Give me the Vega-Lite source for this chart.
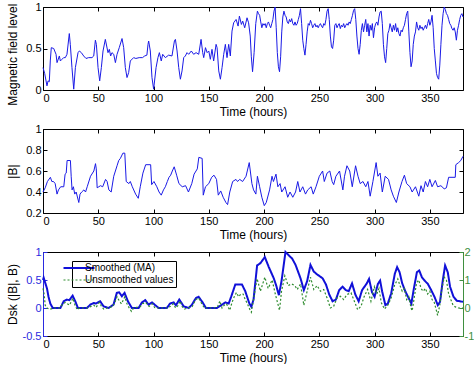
{
"$schema": "https://vega.github.io/schema/vega-lite/v6.json",
"padding": {"left": 5, "top": -9, "right": 0, "bottom": 0},
"spacing": 39,
"bounds": "flush",
"config": {
  "font": "Liberation Sans",
  "view": {"stroke": "black", "strokeWidth": 1},
  "axis": {"grid": false, "domain": false, "labelFontSize": 11, "titleFontSize": 12, "titleFontWeight": "normal", "labelColor": "black", "titleColor": "black", "tickColor": "black", "tickSize": -4, "labelPadding": 6, "titlePadding": 3, "labelExpr": "replace(datum.label, '−', '-')"}
},
"datasets": {
"B": [{"t":0,"v":0.27},{"t":1.5,"v":0.2},{"t":3.6,"v":0.05},{"t":4.6,"v":0.11},{"t":5.7,"v":0.1},{"t":6.6,"v":0.35},{"t":7.5,"v":0.51},{"t":9.7,"v":0.5},{"t":10.6,"v":0.47},{"t":11.8,"v":0.43},{"t":12.7,"v":0.33},{"t":14.8,"v":0.41},{"t":15.7,"v":0.35},{"t":17.2,"v":0.37},{"t":18.7,"v":0.39},{"t":20.2,"v":0.39},{"t":21.7,"v":0.43},{"t":23.8,"v":0.68},{"t":24.7,"v":0.55},{"t":26.2,"v":0.27},{"t":27.8,"v":0.01},{"t":29.3,"v":0.27},{"t":31.7,"v":0.45},{"t":32.9,"v":0.47},{"t":34.7,"v":0.45},{"t":36.8,"v":0.41},{"t":38.9,"v":0.38},{"t":41.3,"v":0.39},{"t":44.3,"v":0.39},{"t":45.9,"v":0.41},{"t":47.4,"v":0.6},{"t":48.3,"v":0.55},{"t":49.8,"v":0.27},{"t":51.3,"v":0.11},{"t":52.8,"v":0.27},{"t":54.3,"v":0.47},{"t":56.4,"v":0.61},{"t":57.6,"v":0.53},{"t":58.8,"v":0.45},{"t":60,"v":0.49},{"t":61.2,"v":0.41},{"t":62.4,"v":0.45},{"t":64,"v":0.43},{"t":65.5,"v":0.33},{"t":67,"v":0.43},{"t":69,"v":0.51},{"t":71.5,"v":0.62},{"t":73,"v":0.51},{"t":74.5,"v":0.27},{"t":76,"v":0.15},{"t":77.5,"v":0.21},{"t":79,"v":0.35},{"t":82,"v":0.39},{"t":84,"v":0.38},{"t":87,"v":0.39},{"t":90,"v":0.39},{"t":92,"v":0.41},{"t":94,"v":0.42},{"t":95,"v":0.55},{"t":95.6,"v":0.59},{"t":97.1,"v":0.47},{"t":98.6,"v":0.15},{"t":100.1,"v":0.01},{"t":102.3,"v":0.27},{"t":104,"v":0.39},{"t":105.3,"v":0.45},{"t":107,"v":0.35},{"t":108.3,"v":0.43},{"t":110.7,"v":0.39},{"t":113.7,"v":0.42},{"t":116.7,"v":0.41},{"t":118.9,"v":0.59},{"t":119.8,"v":0.61},{"t":121.3,"v":0.47},{"t":122.8,"v":0.27},{"t":124.3,"v":0.13},{"t":125.8,"v":0.23},{"t":127.3,"v":0.39},{"t":128.8,"v":0.41},{"t":130.3,"v":0.45},{"t":131.8,"v":0.43},{"t":134.2,"v":0.47},{"t":136.3,"v":0.43},{"t":138.5,"v":0.45},{"t":140.9,"v":0.43},{"t":143,"v":0.61},{"t":144.5,"v":0.45},{"t":145.4,"v":0.39},{"t":147,"v":0.51},{"t":148.5,"v":0.45},{"t":150,"v":0.47},{"t":151.4,"v":0.37},{"t":152.9,"v":0.49},{"t":154.4,"v":0.35},{"t":156.6,"v":0.55},{"t":157.5,"v":0.51},{"t":159,"v":0.23},{"t":160.5,"v":0.13},{"t":162,"v":0.27},{"t":163.5,"v":0.43},{"t":165,"v":0.55},{"t":166.5,"v":0.39},{"t":168,"v":0.55},{"t":169.5,"v":0.41},{"t":171,"v":0.71},{"t":172.5,"v":0.81},{"t":174.7,"v":0.85},{"t":176.5,"v":0.77},{"t":177.7,"v":0.89},{"t":179.5,"v":0.79},{"t":180.7,"v":0.83},{"t":182.5,"v":0.75},{"t":184.6,"v":0.87},{"t":186,"v":0.81},{"t":187.5,"v":0.65},{"t":188.5,"v":0.4},{"t":189.6,"v":0.22},{"t":191,"v":0.45},{"t":192.5,"v":0.8},{"t":194,"v":0.95},{"t":195,"v":0.92},{"t":196,"v":0.9},{"t":197,"v":0.82},{"t":198,"v":0.75},{"t":199,"v":0.8},{"t":200,"v":0.78},{"t":201,"v":0.8},{"t":202,"v":0.75},{"t":203,"v":0.8},{"t":204,"v":0.82},{"t":205,"v":0.78},{"t":206,"v":0.75},{"t":207,"v":0.8},{"t":208,"v":0.85},{"t":209,"v":0.95},{"t":210,"v":1.0},{"t":211,"v":0.75},{"t":212,"v":0.45},{"t":213,"v":0.28},{"t":214,"v":0.22},{"t":215,"v":0.4},{"t":216,"v":0.7},{"t":217,"v":0.88},{"t":218,"v":0.95},{"t":219,"v":0.9},{"t":220,"v":0.88},{"t":221,"v":0.82},{"t":222,"v":0.8},{"t":223,"v":0.85},{"t":224,"v":0.82},{"t":225,"v":0.86},{"t":226,"v":0.8},{"t":227,"v":0.78},{"t":228,"v":0.82},{"t":229,"v":0.78},{"t":230,"v":0.8},{"t":231,"v":0.85},{"t":232,"v":0.9},{"t":233,"v":0.98},{"t":234,"v":0.8},{"t":235,"v":0.6},{"t":236,"v":0.5},{"t":237,"v":0.42},{"t":238,"v":0.55},{"t":239,"v":0.7},{"t":240,"v":0.8},{"t":241,"v":0.78},{"t":242,"v":0.84},{"t":243,"v":0.8},{"t":244,"v":0.75},{"t":245,"v":0.78},{"t":246,"v":0.8},{"t":247,"v":0.76},{"t":248,"v":0.78},{"t":249,"v":0.75},{"t":250,"v":0.78},{"t":251,"v":0.8},{"t":252,"v":0.77},{"t":253,"v":0.75},{"t":254,"v":0.8},{"t":255,"v":0.78},{"t":256,"v":0.85},{"t":257,"v":0.95},{"t":258,"v":0.98},{"t":259,"v":0.85},{"t":260,"v":0.65},{"t":261,"v":0.52},{"t":262,"v":0.5},{"t":263,"v":0.6},{"t":264,"v":0.78},{"t":265,"v":0.8},{"t":266,"v":0.75},{"t":267,"v":0.78},{"t":268,"v":0.8},{"t":269,"v":0.74},{"t":270,"v":0.78},{"t":271,"v":0.76},{"t":272,"v":0.8},{"t":273,"v":0.75},{"t":274,"v":0.78},{"t":275,"v":0.8},{"t":276,"v":0.78},{"t":277,"v":0.82},{"t":278,"v":0.8},{"t":279,"v":0.85},{"t":280,"v":0.9},{"t":281,"v":0.96},{"t":282,"v":0.98},{"t":283,"v":0.85},{"t":284,"v":0.65},{"t":285,"v":0.5},{"t":286,"v":0.43},{"t":287,"v":0.55},{"t":288,"v":0.72},{"t":289,"v":0.8},{"t":290,"v":0.7},{"t":291,"v":0.78},{"t":292,"v":0.85},{"t":293,"v":0.7},{"t":294,"v":0.8},{"t":295,"v":0.65},{"t":296,"v":0.78},{"t":297,"v":0.72},{"t":298,"v":0.8},{"t":299,"v":0.63},{"t":300,"v":0.75},{"t":301,"v":0.8},{"t":302,"v":0.82},{"t":303,"v":0.78},{"t":304,"v":0.88},{"t":305,"v":0.94},{"t":306,"v":0.95},{"t":307,"v":0.8},{"t":308,"v":0.55},{"t":309,"v":0.4},{"t":310,"v":0.33},{"t":311,"v":0.5},{"t":312,"v":0.68},{"t":313,"v":0.72},{"t":314,"v":0.8},{"t":315,"v":0.75},{"t":316,"v":0.7},{"t":317,"v":0.78},{"t":318,"v":0.72},{"t":319,"v":0.8},{"t":320,"v":0.7},{"t":321,"v":0.75},{"t":322,"v":0.68},{"t":323,"v":0.65},{"t":324,"v":0.72},{"t":325,"v":0.7},{"t":326,"v":0.75},{"t":327,"v":0.78},{"t":328,"v":0.85},{"t":329,"v":0.92},{"t":330,"v":0.95},{"t":331,"v":0.7},{"t":332,"v":0.45},{"t":333,"v":0.28},{"t":334,"v":0.35},{"t":335,"v":0.55},{"t":336,"v":0.65},{"t":337,"v":0.7},{"t":338,"v":0.82},{"t":339,"v":0.75},{"t":340,"v":0.72},{"t":341,"v":0.78},{"t":342,"v":0.74},{"t":343,"v":0.76},{"t":344,"v":0.72},{"t":345,"v":0.75},{"t":346,"v":0.78},{"t":347,"v":0.74},{"t":348,"v":0.8},{"t":349,"v":0.85},{"t":350,"v":0.78},{"t":351,"v":0.82},{"t":352,"v":0.9},{"t":353,"v":0.75},{"t":354,"v":0.5},{"t":355,"v":0.35},{"t":356,"v":0.2},{"t":357,"v":0.15},{"t":358,"v":0.13},{"t":359,"v":0.3},{"t":360,"v":0.55},{"t":361,"v":0.78},{"t":362,"v":0.92},{"t":363,"v":1.0},{"t":364,"v":0.97},{"t":365,"v":0.92},{"t":366,"v":0.9},{"t":367,"v":0.85},{"t":368,"v":0.8},{"t":369,"v":0.78},{"t":370,"v":0.74},{"t":371,"v":0.72},{"t":372,"v":0.75},{"t":373,"v":0.7},{"t":374,"v":0.6},{"t":375,"v":0.72},{"t":376,"v":0.78},{"t":377,"v":0.85},{"t":378,"v":0.9},{"t":379,"v":0.92},{"t":380,"v":0.88}],
"A": [{"t":0,"v":0.4},{"t":2,"v":0.44},{"t":4,"v":0.5},{"t":6.7,"v":0.54},{"t":8,"v":0.5},{"t":9.5,"v":0.5},{"t":11,"v":0.48},{"t":12.7,"v":0.38},{"t":14,"v":0.42},{"t":16,"v":0.45},{"t":18.8,"v":0.45},{"t":20,"v":0.57},{"t":21,"v":0.58},{"t":21.8,"v":0.7},{"t":24.8,"v":0.7},{"t":25.5,"v":0.55},{"t":26.3,"v":0.42},{"t":27.5,"v":0.45},{"t":28.7,"v":0.38},{"t":30,"v":0.4},{"t":32.4,"v":0.3},{"t":33.5,"v":0.38},{"t":35,"v":0.4},{"t":37,"v":0.42},{"t":38.5,"v":0.4},{"t":40,"v":0.45},{"t":43,"v":0.55},{"t":46,"v":0.6},{"t":47.5,"v":0.67},{"t":48.2,"v":0.62},{"t":49,"v":0.44},{"t":50.5,"v":0.45},{"t":52,"v":0.46},{"t":54,"v":0.45},{"t":56.6,"v":0.52},{"t":58,"v":0.5},{"t":59.6,"v":0.42},{"t":61.7,"v":0.4},{"t":64,"v":0.55},{"t":67,"v":0.65},{"t":68.5,"v":0.7},{"t":70,"v":0.72},{"t":72.3,"v":0.77},{"t":74,"v":0.77},{"t":75.3,"v":0.5},{"t":77.7,"v":0.48},{"t":79,"v":0.5},{"t":80.8,"v":0.45},{"t":83.8,"v":0.38},{"t":86.2,"v":0.34},{"t":88,"v":0.45},{"t":90.4,"v":0.58},{"t":92.9,"v":0.66},{"t":97.4,"v":0.66},{"t":98.3,"v":0.47},{"t":100.4,"v":0.5},{"t":103,"v":0.45},{"t":105,"v":0.4},{"t":107,"v":0.37},{"t":109,"v":0.42},{"t":110.7,"v":0.45},{"t":112.5,"v":0.5},{"t":114,"v":0.54},{"t":115.5,"v":0.56},{"t":117,"v":0.6},{"t":118.7,"v":0.64},{"t":120.9,"v":0.56},{"t":123,"v":0.48},{"t":126,"v":0.45},{"t":129,"v":0.46},{"t":131.6,"v":0.4},{"t":134.6,"v":0.48},{"t":136.7,"v":0.57},{"t":139.6,"v":0.62},{"t":141,"v":0.73},{"t":144,"v":0.72},{"t":145,"v":0.37},{"t":147,"v":0.45},{"t":150,"v":0.48},{"t":152.6,"v":0.54},{"t":154.7,"v":0.56},{"t":157,"v":0.52},{"t":158.6,"v":0.37},{"t":160.8,"v":0.41},{"t":163,"v":0.35},{"t":165.5,"v":0.3},{"t":167,"v":0.28},{"t":169,"v":0.4},{"t":171.6,"v":0.5},{"t":174.6,"v":0.52},{"t":176,"v":0.5},{"t":178,"v":0.52},{"t":180.6,"v":0.5},{"t":183.7,"v":0.55},{"t":186.6,"v":0.68},{"t":189,"v":0.48},{"t":190.5,"v":0.42},{"t":192.6,"v":0.38},{"t":194,"v":0.55},{"t":196,"v":0.45},{"t":198,"v":0.35},{"t":200.2,"v":0.27},{"t":202,"v":0.3},{"t":205,"v":0.42},{"t":207.2,"v":0.55},{"t":208.5,"v":0.5},{"t":210.8,"v":0.57},{"t":212.5,"v":0.45},{"t":214.5,"v":0.48},{"t":216,"v":0.4},{"t":219,"v":0.45},{"t":221.4,"v":0.35},{"t":223.5,"v":0.4},{"t":226,"v":0.35},{"t":228.5,"v":0.4},{"t":230.5,"v":0.5},{"t":232.5,"v":0.4},{"t":235,"v":0.45},{"t":237.5,"v":0.38},{"t":239.5,"v":0.42},{"t":242.6,"v":0.45},{"t":244.5,"v":0.38},{"t":247,"v":0.45},{"t":250,"v":0.55},{"t":253,"v":0.6},{"t":254.5,"v":0.5},{"t":257,"v":0.58},{"t":259.5,"v":0.6},{"t":261.6,"v":0.5},{"t":263,"v":0.47},{"t":265,"v":0.55},{"t":268.3,"v":0.6},{"t":271.3,"v":0.42},{"t":272.8,"v":0.55},{"t":275,"v":0.65},{"t":277.5,"v":0.6},{"t":279.8,"v":0.45},{"t":282.8,"v":0.65},{"t":285,"v":0.55},{"t":287,"v":0.48},{"t":289.5,"v":0.5},{"t":292,"v":0.45},{"t":294,"v":0.5},{"t":296,"v":0.36},{"t":298.5,"v":0.5},{"t":301.4,"v":0.68},{"t":303,"v":0.55},{"t":305,"v":0.58},{"t":307,"v":0.4},{"t":309.6,"v":0.55},{"t":312.6,"v":0.52},{"t":315,"v":0.42},{"t":317,"v":0.36},{"t":319.7,"v":0.3},{"t":322,"v":0.4},{"t":324.8,"v":0.5},{"t":327,"v":0.56},{"t":329,"v":0.48},{"t":332,"v":0.45},{"t":334,"v":0.4},{"t":337,"v":0.45},{"t":340,"v":0.36},{"t":342,"v":0.46},{"t":344,"v":0.4},{"t":346,"v":0.5},{"t":348,"v":0.45},{"t":350,"v":0.52},{"t":352,"v":0.45},{"t":355,"v":0.51},{"t":357,"v":0.45},{"t":360,"v":0.46},{"t":363,"v":0.43},{"t":365,"v":0.44},{"t":367,"v":0.54},{"t":373,"v":0.54},{"t":373.5,"v":0.66},{"t":376,"v":0.68},{"t":378,"v":0.7},{"t":380,"v":0.74}],
"D": [{"t":0,"v":0.5,"s":"Smoothed (MA)"},{"t":0.6,"v":0.54,"s":"Smoothed (MA)"},{"t":2,"v":0.45,"s":"Smoothed (MA)"},{"t":3.6,"v":0.35,"s":"Smoothed (MA)"},{"t":5,"v":0.2,"s":"Smoothed (MA)"},{"t":6.6,"v":0.08,"s":"Smoothed (MA)"},{"t":8.8,"v":0.0,"s":"Smoothed (MA)"},{"t":15.7,"v":0.0,"s":"Smoothed (MA)"},{"t":17,"v":0.05,"s":"Smoothed (MA)"},{"t":18.7,"v":0.12,"s":"Smoothed (MA)"},{"t":21.7,"v":0.15,"s":"Smoothed (MA)"},{"t":23.8,"v":0.14,"s":"Smoothed (MA)"},{"t":26.8,"v":0.22,"s":"Smoothed (MA)"},{"t":29.2,"v":0.12,"s":"Smoothed (MA)"},{"t":31.6,"v":0.0,"s":"Smoothed (MA)"},{"t":39.8,"v":0.0,"s":"Smoothed (MA)"},{"t":42.8,"v":0.06,"s":"Smoothed (MA)"},{"t":45.8,"v":0.09,"s":"Smoothed (MA)"},{"t":48,"v":0.08,"s":"Smoothed (MA)"},{"t":51.7,"v":0.12,"s":"Smoothed (MA)"},{"t":54.8,"v":0.03,"s":"Smoothed (MA)"},{"t":59.3,"v":0.0,"s":"Smoothed (MA)"},{"t":63.8,"v":0.06,"s":"Smoothed (MA)"},{"t":66.8,"v":0.27,"s":"Smoothed (MA)"},{"t":68.9,"v":0.28,"s":"Smoothed (MA)"},{"t":71.4,"v":0.21,"s":"Smoothed (MA)"},{"t":73.8,"v":0.27,"s":"Smoothed (MA)"},{"t":76.8,"v":0.12,"s":"Smoothed (MA)"},{"t":80.4,"v":0.0,"s":"Smoothed (MA)"},{"t":86.5,"v":0.0,"s":"Smoothed (MA)"},{"t":89.5,"v":0.1,"s":"Smoothed (MA)"},{"t":92.5,"v":0.14,"s":"Smoothed (MA)"},{"t":95.5,"v":0.06,"s":"Smoothed (MA)"},{"t":98.6,"v":0.1,"s":"Smoothed (MA)"},{"t":101.6,"v":0.05,"s":"Smoothed (MA)"},{"t":104.6,"v":0.0,"s":"Smoothed (MA)"},{"t":112,"v":0.0,"s":"Smoothed (MA)"},{"t":115,"v":0.08,"s":"Smoothed (MA)"},{"t":118.2,"v":0.1,"s":"Smoothed (MA)"},{"t":120.3,"v":0.05,"s":"Smoothed (MA)"},{"t":123.3,"v":0.15,"s":"Smoothed (MA)"},{"t":127.3,"v":0.03,"s":"Smoothed (MA)"},{"t":131.8,"v":0.0,"s":"Smoothed (MA)"},{"t":134.8,"v":0.06,"s":"Smoothed (MA)"},{"t":138.4,"v":0.18,"s":"Smoothed (MA)"},{"t":140.8,"v":0.2,"s":"Smoothed (MA)"},{"t":144.4,"v":0.1,"s":"Smoothed (MA)"},{"t":147.4,"v":0.0,"s":"Smoothed (MA)"},{"t":157.4,"v":0.0,"s":"Smoothed (MA)"},{"t":162,"v":0.06,"s":"Smoothed (MA)"},{"t":165,"v":0.1,"s":"Smoothed (MA)"},{"t":168,"v":0.08,"s":"Smoothed (MA)"},{"t":170.4,"v":0.21,"s":"Smoothed (MA)"},{"t":174,"v":0.42,"s":"Smoothed (MA)"},{"t":180,"v":0.42,"s":"Smoothed (MA)"},{"t":183,"v":0.3,"s":"Smoothed (MA)"},{"t":186.7,"v":0.08,"s":"Smoothed (MA)"},{"t":188.5,"v":0.02,"s":"Smoothed (MA)"},{"t":190.5,"v":0.15,"s":"Smoothed (MA)"},{"t":193.7,"v":0.76,"s":"Smoothed (MA)"},{"t":196.7,"v":0.8,"s":"Smoothed (MA)"},{"t":200.7,"v":0.91,"s":"Smoothed (MA)"},{"t":204.3,"v":0.73,"s":"Smoothed (MA)"},{"t":208.8,"v":0.53,"s":"Smoothed (MA)"},{"t":211,"v":0.4,"s":"Smoothed (MA)"},{"t":213.4,"v":0.23,"s":"Smoothed (MA)"},{"t":215.8,"v":0.48,"s":"Smoothed (MA)"},{"t":219.4,"v":1.0,"s":"Smoothed (MA)"},{"t":222.4,"v":0.94,"s":"Smoothed (MA)"},{"t":225.5,"v":0.88,"s":"Smoothed (MA)"},{"t":228.5,"v":0.77,"s":"Smoothed (MA)"},{"t":233,"v":0.53,"s":"Smoothed (MA)"},{"t":236,"v":0.32,"s":"Smoothed (MA)"},{"t":239,"v":0.48,"s":"Smoothed (MA)"},{"t":242,"v":0.77,"s":"Smoothed (MA)"},{"t":245,"v":0.65,"s":"Smoothed (MA)"},{"t":248,"v":0.6,"s":"Smoothed (MA)"},{"t":253,"v":0.53,"s":"Smoothed (MA)"},{"t":256,"v":0.42,"s":"Smoothed (MA)"},{"t":259,"v":0.24,"s":"Smoothed (MA)"},{"t":262,"v":0.12,"s":"Smoothed (MA)"},{"t":265,"v":0.15,"s":"Smoothed (MA)"},{"t":268,"v":0.32,"s":"Smoothed (MA)"},{"t":271,"v":0.38,"s":"Smoothed (MA)"},{"t":274,"v":0.32,"s":"Smoothed (MA)"},{"t":276.6,"v":0.3,"s":"Smoothed (MA)"},{"t":279.6,"v":0.44,"s":"Smoothed (MA)"},{"t":282.6,"v":0.24,"s":"Smoothed (MA)"},{"t":285.6,"v":0.12,"s":"Smoothed (MA)"},{"t":288.7,"v":0.32,"s":"Smoothed (MA)"},{"t":293,"v":0.44,"s":"Smoothed (MA)"},{"t":295,"v":0.52,"s":"Smoothed (MA)"},{"t":297.7,"v":0.28,"s":"Smoothed (MA)"},{"t":300,"v":0.2,"s":"Smoothed (MA)"},{"t":303,"v":0.43,"s":"Smoothed (MA)"},{"t":305,"v":0.49,"s":"Smoothed (MA)"},{"t":306.8,"v":0.3,"s":"Smoothed (MA)"},{"t":309.8,"v":0.05,"s":"Smoothed (MA)"},{"t":312,"v":0.08,"s":"Smoothed (MA)"},{"t":315,"v":0.26,"s":"Smoothed (MA)"},{"t":318.3,"v":0.61,"s":"Smoothed (MA)"},{"t":320.4,"v":0.73,"s":"Smoothed (MA)"},{"t":322.6,"v":0.64,"s":"Smoothed (MA)"},{"t":325,"v":0.44,"s":"Smoothed (MA)"},{"t":328,"v":0.29,"s":"Smoothed (MA)"},{"t":331,"v":0.17,"s":"Smoothed (MA)"},{"t":333.3,"v":0.08,"s":"Smoothed (MA)"},{"t":335.3,"v":0.32,"s":"Smoothed (MA)"},{"t":338.3,"v":0.64,"s":"Smoothed (MA)"},{"t":340.4,"v":0.67,"s":"Smoothed (MA)"},{"t":342.8,"v":0.55,"s":"Smoothed (MA)"},{"t":345.2,"v":0.49,"s":"Smoothed (MA)"},{"t":348.2,"v":0.43,"s":"Smoothed (MA)"},{"t":351.2,"v":0.32,"s":"Smoothed (MA)"},{"t":354.2,"v":0.2,"s":"Smoothed (MA)"},{"t":357.2,"v":0.05,"s":"Smoothed (MA)"},{"t":359.2,"v":0.11,"s":"Smoothed (MA)"},{"t":361.7,"v":0.49,"s":"Smoothed (MA)"},{"t":363.8,"v":0.76,"s":"Smoothed (MA)"},{"t":366.2,"v":0.64,"s":"Smoothed (MA)"},{"t":368.3,"v":0.38,"s":"Smoothed (MA)"},{"t":371.4,"v":0.2,"s":"Smoothed (MA)"},{"t":374.4,"v":0.13,"s":"Smoothed (MA)"},{"t":380,"v":0.11,"s":"Smoothed (MA)"},
{"t":0,"v":0.7,"s":"Unsmoothed values"},{"t":1,"v":0.5,"s":"Unsmoothed values"},{"t":2,"v":0.1,"s":"Unsmoothed values"},{"t":3.5,"v":0.0,"s":"Unsmoothed values"},{"t":6,"v":-0.05,"s":"Unsmoothed values"},{"t":10,"v":0.0,"s":"Unsmoothed values"},{"t":15,"v":0.0,"s":"Unsmoothed values"},{"t":18,"v":0.15,"s":"Unsmoothed values"},{"t":20,"v":0.2,"s":"Unsmoothed values"},{"t":22,"v":0.15,"s":"Unsmoothed values"},{"t":24,"v":0.1,"s":"Unsmoothed values"},{"t":27,"v":0.35,"s":"Unsmoothed values"},{"t":29,"v":0.1,"s":"Unsmoothed values"},{"t":31,"v":-0.06,"s":"Unsmoothed values"},{"t":33,"v":0.0,"s":"Unsmoothed values"},{"t":40,"v":0.0,"s":"Unsmoothed values"},{"t":43,"v":0.05,"s":"Unsmoothed values"},{"t":46,"v":0.1,"s":"Unsmoothed values"},{"t":48,"v":0.02,"s":"Unsmoothed values"},{"t":51,"v":0.2,"s":"Unsmoothed values"},{"t":53,"v":0.05,"s":"Unsmoothed values"},{"t":55,"v":-0.04,"s":"Unsmoothed values"},{"t":58,"v":0.0,"s":"Unsmoothed values"},{"t":63,"v":0.05,"s":"Unsmoothed values"},{"t":65,"v":0.2,"s":"Unsmoothed values"},{"t":67,"v":0.4,"s":"Unsmoothed values"},{"t":69,"v":0.25,"s":"Unsmoothed values"},{"t":71,"v":0.15,"s":"Unsmoothed values"},{"t":74,"v":0.4,"s":"Unsmoothed values"},{"t":76,"v":0.15,"s":"Unsmoothed values"},{"t":78,"v":0.0,"s":"Unsmoothed values"},{"t":80,"v":-0.12,"s":"Unsmoothed values"},{"t":82,"v":0.0,"s":"Unsmoothed values"},{"t":88,"v":0.05,"s":"Unsmoothed values"},{"t":90,"v":0.15,"s":"Unsmoothed values"},{"t":93,"v":0.2,"s":"Unsmoothed values"},{"t":96,"v":0.06,"s":"Unsmoothed values"},{"t":99,"v":0.15,"s":"Unsmoothed values"},{"t":101,"v":0.02,"s":"Unsmoothed values"},{"t":104,"v":0.0,"s":"Unsmoothed values"},{"t":112,"v":0.0,"s":"Unsmoothed values"},{"t":115,"v":0.05,"s":"Unsmoothed values"},{"t":118,"v":0.15,"s":"Unsmoothed values"},{"t":120,"v":0.0,"s":"Unsmoothed values"},{"t":122,"v":0.08,"s":"Unsmoothed values"},{"t":124,"v":0.25,"s":"Unsmoothed values"},{"t":126,"v":0.05,"s":"Unsmoothed values"},{"t":128,"v":-0.04,"s":"Unsmoothed values"},{"t":131,"v":0.0,"s":"Unsmoothed values"},{"t":135,"v":0.05,"s":"Unsmoothed values"},{"t":138,"v":0.3,"s":"Unsmoothed values"},{"t":141,"v":0.35,"s":"Unsmoothed values"},{"t":143,"v":0.2,"s":"Unsmoothed values"},{"t":146,"v":0.0,"s":"Unsmoothed values"},{"t":155,"v":0.0,"s":"Unsmoothed values"},{"t":158,"v":0.05,"s":"Unsmoothed values"},{"t":160,"v":0.25,"s":"Unsmoothed values"},{"t":162,"v":0.0,"s":"Unsmoothed values"},{"t":164,"v":0.1,"s":"Unsmoothed values"},{"t":166,"v":0.15,"s":"Unsmoothed values"},{"t":169,"v":-0.08,"s":"Unsmoothed values"},{"t":171,"v":0.2,"s":"Unsmoothed values"},{"t":173,"v":0.4,"s":"Unsmoothed values"},{"t":175,"v":0.55,"s":"Unsmoothed values"},{"t":177,"v":0.4,"s":"Unsmoothed values"},{"t":179,"v":0.5,"s":"Unsmoothed values"},{"t":181,"v":0.5,"s":"Unsmoothed values"},{"t":183,"v":0.3,"s":"Unsmoothed values"},{"t":185,"v":0.15,"s":"Unsmoothed values"},{"t":186.5,"v":0.0,"s":"Unsmoothed values"},{"t":188.5,"v":-0.15,"s":"Unsmoothed values"},{"t":190,"v":0.2,"s":"Unsmoothed values"},{"t":193.7,"v":1.05,"s":"Unsmoothed values"},{"t":196.7,"v":0.6,"s":"Unsmoothed values"},{"t":200.7,"v":1.1,"s":"Unsmoothed values"},{"t":203.7,"v":0.7,"s":"Unsmoothed values"},{"t":207.3,"v":1.0,"s":"Unsmoothed values"},{"t":210.3,"v":0.48,"s":"Unsmoothed values"},{"t":214,"v":-0.08,"s":"Unsmoothed values"},{"t":215.8,"v":0.6,"s":"Unsmoothed values"},{"t":218.8,"v":1.15,"s":"Unsmoothed values"},{"t":221.8,"v":0.8,"s":"Unsmoothed values"},{"t":224.9,"v":0.86,"s":"Unsmoothed values"},{"t":227.9,"v":0.8,"s":"Unsmoothed values"},{"t":230,"v":0.66,"s":"Unsmoothed values"},{"t":233,"v":0.86,"s":"Unsmoothed values"},{"t":236,"v":0.1,"s":"Unsmoothed values"},{"t":239,"v":0.6,"s":"Unsmoothed values"},{"t":242,"v":1.1,"s":"Unsmoothed values"},{"t":245,"v":0.66,"s":"Unsmoothed values"},{"t":248,"v":0.8,"s":"Unsmoothed values"},{"t":251,"v":0.6,"s":"Unsmoothed values"},{"t":254,"v":0.66,"s":"Unsmoothed values"},{"t":257,"v":0.36,"s":"Unsmoothed values"},{"t":260,"v":0.0,"s":"Unsmoothed values"},{"t":263,"v":0.06,"s":"Unsmoothed values"},{"t":266,"v":0.36,"s":"Unsmoothed values"},{"t":269,"v":0.42,"s":"Unsmoothed values"},{"t":272,"v":0.3,"s":"Unsmoothed values"},{"t":275,"v":0.48,"s":"Unsmoothed values"},{"t":278.7,"v":0.54,"s":"Unsmoothed values"},{"t":281.7,"v":0.24,"s":"Unsmoothed values"},{"t":284.7,"v":-0.06,"s":"Unsmoothed values"},{"t":287.7,"v":0.06,"s":"Unsmoothed values"},{"t":290.7,"v":0.42,"s":"Unsmoothed values"},{"t":293.7,"v":0.66,"s":"Unsmoothed values"},{"t":296.7,"v":0.24,"s":"Unsmoothed values"},{"t":299.8,"v":0.76,"s":"Unsmoothed values"},{"t":302,"v":0.5,"s":"Unsmoothed values"},{"t":304,"v":0.7,"s":"Unsmoothed values"},{"t":306,"v":0.2,"s":"Unsmoothed values"},{"t":309,"v":-0.04,"s":"Unsmoothed values"},{"t":312,"v":0.1,"s":"Unsmoothed values"},{"t":315,"v":0.36,"s":"Unsmoothed values"},{"t":318,"v":0.8,"s":"Unsmoothed values"},{"t":321,"v":1.04,"s":"Unsmoothed values"},{"t":323,"v":0.8,"s":"Unsmoothed values"},{"t":325,"v":0.6,"s":"Unsmoothed values"},{"t":327,"v":0.7,"s":"Unsmoothed values"},{"t":329,"v":0.3,"s":"Unsmoothed values"},{"t":331,"v":0.4,"s":"Unsmoothed values"},{"t":333,"v":0.0,"s":"Unsmoothed values"},{"t":334,"v":-0.1,"s":"Unsmoothed values"},{"t":336,"v":0.4,"s":"Unsmoothed values"},{"t":338,"v":0.9,"s":"Unsmoothed values"},{"t":340,"v":1.0,"s":"Unsmoothed values"},{"t":342,"v":0.7,"s":"Unsmoothed values"},{"t":344,"v":0.6,"s":"Unsmoothed values"},{"t":346,"v":0.7,"s":"Unsmoothed values"},{"t":348,"v":0.5,"s":"Unsmoothed values"},{"t":350,"v":0.6,"s":"Unsmoothed values"},{"t":352,"v":0.3,"s":"Unsmoothed values"},{"t":354,"v":0.2,"s":"Unsmoothed values"},{"t":356,"v":-0.1,"s":"Unsmoothed values"},{"t":357,"v":-0.26,"s":"Unsmoothed values"},{"t":359,"v":0.1,"s":"Unsmoothed values"},{"t":361,"v":0.7,"s":"Unsmoothed values"},{"t":363,"v":1.1,"s":"Unsmoothed values"},{"t":365,"v":1.0,"s":"Unsmoothed values"},{"t":367,"v":0.5,"s":"Unsmoothed values"},{"t":369,"v":0.3,"s":"Unsmoothed values"},{"t":371,"v":0.1,"s":"Unsmoothed values"},{"t":373,"v":0.04,"s":"Unsmoothed values"},{"t":376,"v":0.0,"s":"Unsmoothed values"},{"t":380,"v":0.0,"s":"Unsmoothed values"}]
},
"vconcat": [
{
  "width": 420, "height": 83,
  "data": {"name": "B"},
  "layer": [
    {"mark": {"type": "line", "color": "#1a1ae6", "strokeWidth": 1},
     "encoding": {
       "x": {"field": "t", "type": "quantitative", "scale": {"domain": [0, 380], "nice": false}, "axis": {"values": [0,50,100,150,200,250,300,350], "title": "Time (hours)"}},
       "y": {"field": "v", "type": "quantitative", "scale": {"domain": [0, 1], "nice": false}, "axis": {"values": [0, 0.5, 1], "format": "~g", "title": "Magnetic field level B", "titleX": -24}}
     }},
    {"mark": {"type": "line", "opacity": 0},
     "encoding": {
       "x": {"field": "t", "type": "quantitative", "axis": {"orient": "top", "values": [0,50,100,150,200,250,300,350], "labels": false, "title": null}},
       "y": {"field": "v", "type": "quantitative", "axis": {"orient": "right", "values": [0, 0.5, 1], "labels": false, "title": null}}
     }}
  ],
  "resolve": {"axis": {"x": "independent", "y": "independent"}}
},
{
  "width": 420, "height": 84,
  "data": {"name": "A"},
  "layer": [
    {"mark": {"type": "line", "color": "#1a1ae6", "strokeWidth": 1},
     "encoding": {
       "x": {"field": "t", "type": "quantitative", "scale": {"domain": [0, 380], "nice": false}, "axis": {"values": [0,50,100,150,200,250,300,350], "title": "Time (hours)"}},
       "y": {"field": "v", "type": "quantitative", "scale": {"domain": [0.2, 1], "nice": false, "zero": false}, "axis": {"values": [0.2, 0.4, 0.6, 0.8, 1], "format": "~g", "title": "|B|", "titleX": -24}}
     }},
    {"mark": {"type": "line", "opacity": 0},
     "encoding": {
       "x": {"field": "t", "type": "quantitative", "axis": {"orient": "top", "values": [0,50,100,150,200,250,300,350], "labels": false, "title": null}},
       "y": {"field": "v", "type": "quantitative", "axis": {"orient": "right", "values": [0.2, 0.4, 0.6, 0.8, 1], "labels": false, "title": null}}
     }}
  ],
  "resolve": {"axis": {"x": "independent", "y": "independent"}}
},
{
  "width": 420, "height": 84,
  "data": {"name": "D"},
  "layer": [
    {"transform": [{"filter": "datum.s === 'Smoothed (MA)'"}],
     "mark": {"type": "line", "strokeWidth": 2},
     "encoding": {
       "x": {"field": "t", "type": "quantitative", "scale": {"domain": [0, 380], "nice": false}, "axis": {"values": [0,50,100,150,200,250,300,350], "title": "Time (hours)"}},
       "y": {"field": "v", "type": "quantitative", "scale": {"domain": [-0.5, 1], "nice": false}, "axis": {"values": [-0.5, 0, 0.5, 1], "format": "~g", "title": "Dsk (|B|, B)", "titleX": -24, "domain": true, "domainColor": "#2a2ae0", "labelColor": "#2a2ae0", "tickColor": "#2a2ae0"}},
       "color": {"field": "s", "type": "nominal", "scale": {"domain": ["Smoothed (MA)", "Unsmoothed values"], "range": ["#1010d8", "#2e8b2e"]}, "legend": {"title": null, "orient": "none", "legendX": 29, "legendY": 254, "symbolType": "stroke", "symbolSize": 961, "labelFontSize": 10, "labelColor": "black", "strokeColor": "black", "fillColor": "white", "padding": 2, "rowPadding": 2, "labelOffset": 1, "cornerRadius": 0, "encode": {"symbols": {"update": {"strokeWidth": {"signal": "datum.value === 'Smoothed (MA)' ? 2 : 1.2"}}}}}},
       "strokeDash": {"field": "s", "type": "nominal", "scale": {"domain": ["Smoothed (MA)", "Unsmoothed values"], "range": [[1, 0], [2, 2]]}, "legend": {"title": null, "orient": "none", "legendX": 29, "legendY": 254, "symbolType": "stroke", "symbolSize": 961, "labelFontSize": 10, "labelColor": "black", "strokeColor": "black", "fillColor": "white", "padding": 2, "rowPadding": 2, "labelOffset": 1, "cornerRadius": 0, "encode": {"symbols": {"update": {"strokeWidth": {"signal": "datum.value === 'Smoothed (MA)' ? 2 : 1.2"}}}}}}
     }},
    {"transform": [{"filter": "datum.s === 'Unsmoothed values'"}],
     "mark": {"type": "line", "strokeWidth": 1.2},
     "encoding": {
       "x": {"field": "t", "type": "quantitative", "axis": {"orient": "top", "values": [0,50,100,150,200,250,300,350], "labels": false, "title": null}},
       "y": {"field": "v", "type": "quantitative", "scale": {"domain": [-1, 2], "nice": false}, "axis": {"orient": "right", "values": [-1, 0, 1, 2], "format": "~g", "title": null, "labelPadding": 5, "domain": true, "domainColor": "#3f8f3f", "labelColor": "#3f8f3f", "tickColor": "#3f8f3f"}},
       "color": {"field": "s", "type": "nominal"},
       "strokeDash": {"field": "s", "type": "nominal"}
     }}
  ],
  "resolve": {"scale": {"y": "independent"}, "axis": {"x": "independent", "y": "independent"}}
}
]
}
